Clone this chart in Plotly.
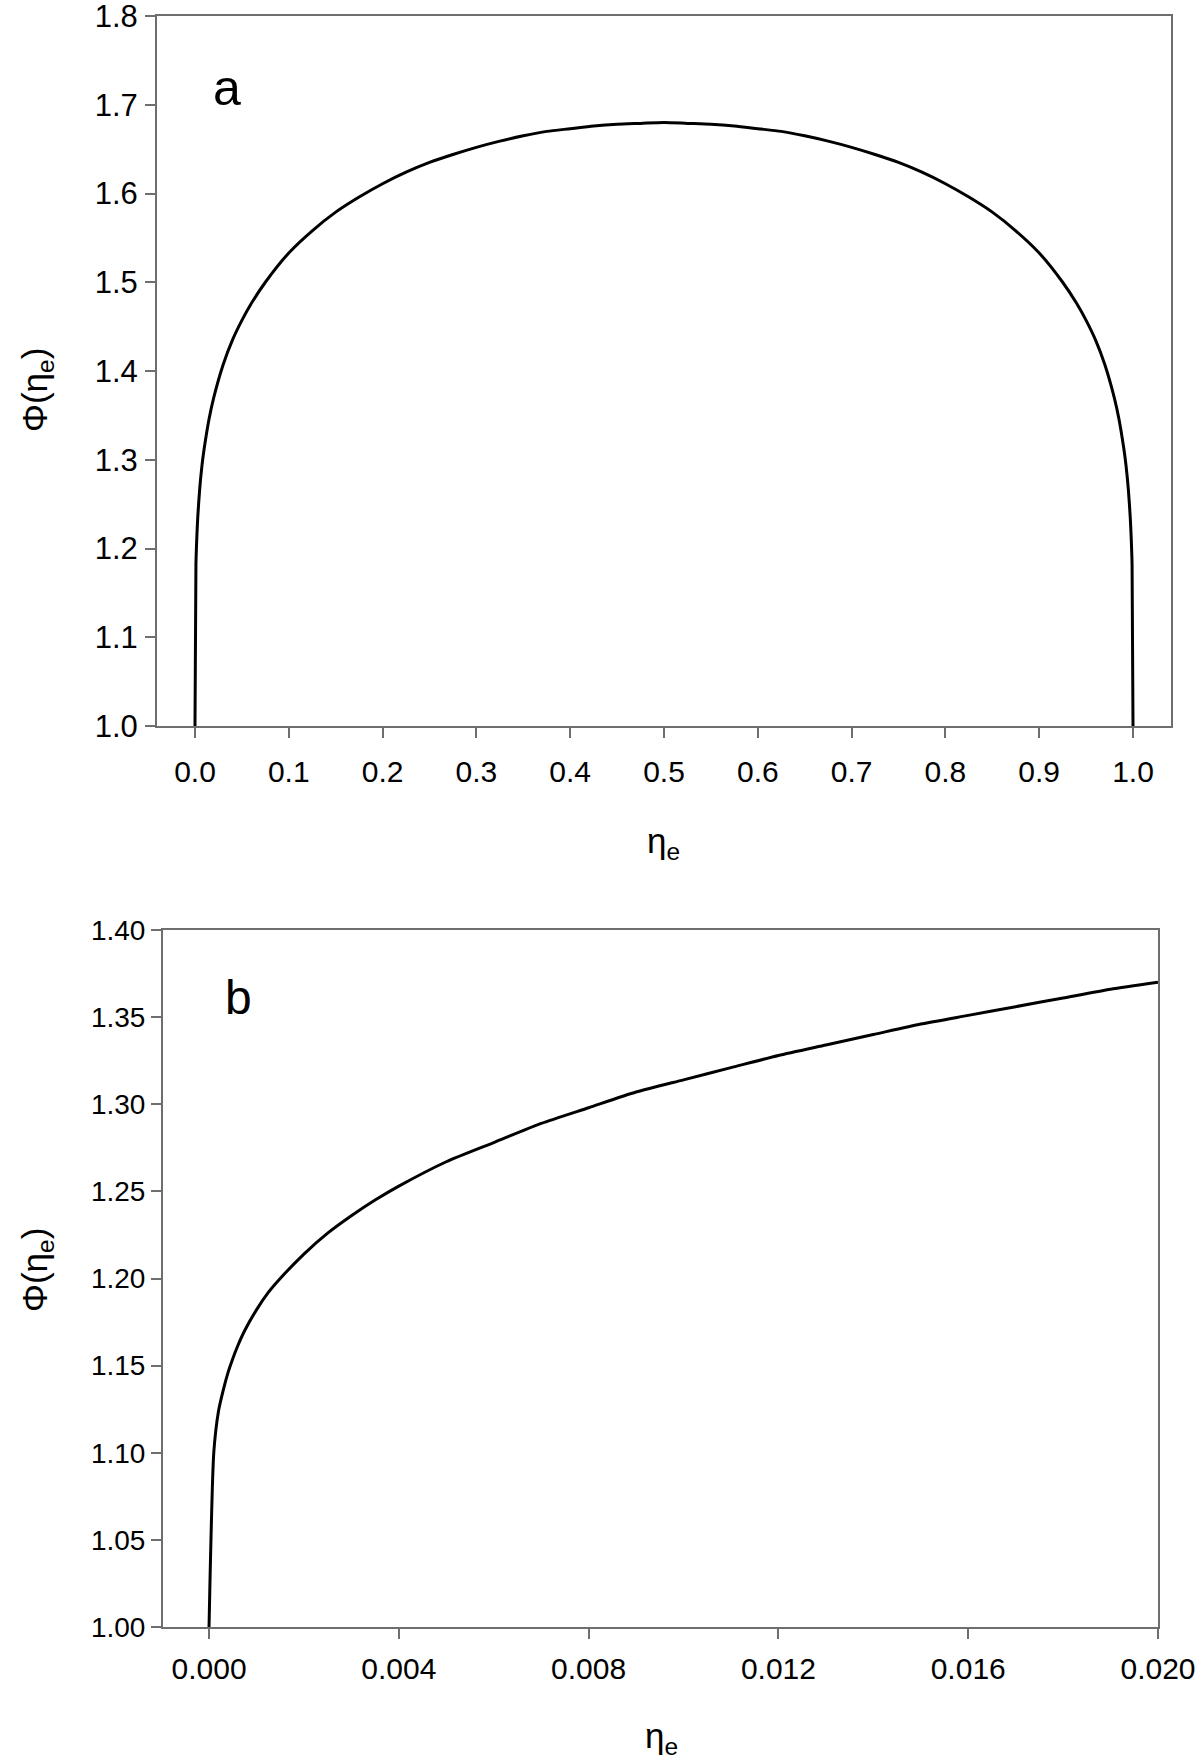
import plotly.graph_objects as go

# panel a: Phi over the full eta_e range
eta_a = [0.0, 0.001, 0.002, 0.003, 0.005, 0.0075, 0.01, 0.015, 0.02, 0.03, 0.04, 0.05,
         0.06, 0.075, 0.1, 0.125, 0.15, 0.175, 0.2, 0.225, 0.25, 0.275, 0.3, 0.325,
         0.35, 0.375, 0.4, 0.425, 0.45, 0.475, 0.5,
         0.525, 0.55, 0.575, 0.6, 0.625, 0.65, 0.675, 0.7, 0.725, 0.75, 0.775, 0.8,
         0.825, 0.85, 0.875, 0.9, 0.925, 0.94, 0.95, 0.96, 0.97, 0.98, 0.985, 0.99,
         0.9925, 0.995, 0.997, 0.998, 0.999, 1.0]
phi_a = [1.0, 1.182, 1.214, 1.236, 1.267, 1.294, 1.314, 1.346, 1.370, 1.407, 1.435, 1.457,
         1.476, 1.500, 1.533, 1.558, 1.579, 1.596, 1.611, 1.624, 1.635, 1.644, 1.652, 1.659,
         1.665, 1.670, 1.673, 1.676, 1.678, 1.679, 1.680,
         1.679, 1.678, 1.676, 1.673, 1.670, 1.665, 1.659, 1.652, 1.644, 1.635, 1.624, 1.611,
         1.596, 1.579, 1.558, 1.533, 1.500, 1.476, 1.457, 1.435, 1.407, 1.370, 1.346, 1.314,
         1.294, 1.267, 1.236, 1.214, 1.182, 1.0]

# panel b: zoom on small eta_e
eta_b = [0.0, 0.0001, 0.0002, 0.0003, 0.0004, 0.0005, 0.0006, 0.00075, 0.001, 0.00125,
         0.0015, 0.002, 0.0025, 0.003, 0.0035, 0.004, 0.005, 0.006, 0.007, 0.008, 0.009,
         0.010, 0.011, 0.012, 0.013, 0.014, 0.015, 0.016, 0.017, 0.018, 0.019, 0.020]
phi_b = [1.0, 1.100, 1.124, 1.136, 1.146, 1.154, 1.161, 1.170, 1.182, 1.192,
         1.200, 1.214, 1.226, 1.236, 1.245, 1.253, 1.267, 1.278, 1.289, 1.298, 1.307,
         1.314, 1.321, 1.328, 1.334, 1.340, 1.346, 1.351, 1.356, 1.361, 1.366, 1.370]

ticks_a_x = [round(0.1 * i, 1) for i in range(11)]
ticks_a_y = [round(1.0 + 0.1 * i, 1) for i in range(9)]
ticks_b_x = [0.0, 0.004, 0.008, 0.012, 0.016, 0.020]
ticks_b_y = [1.00, 1.05, 1.10, 1.15, 1.20, 1.25, 1.30, 1.35, 1.40]

W, H = 1200, 1762
FONT = "Liberation Sans, Arial, sans-serif"
AXIS_GREY = "#6e6e6e"


def px(x0, x1):
    return [x0 / W, x1 / W]


def py(top, bottom):
    return [1 - bottom / H, 1 - top / H]


fig = go.Figure()
fig.add_trace(go.Scatter(x=eta_a, y=phi_a, mode="lines", xaxis="x", yaxis="y",
                         line=dict(color="black", width=3, shape="spline", smoothing=0.7),
                         showlegend=False))
fig.add_trace(go.Scatter(x=eta_b, y=phi_b, mode="lines", xaxis="x2", yaxis="y2",
                         line=dict(color="black", width=3, shape="spline", smoothing=0.6),
                         showlegend=False))

axis_style = dict(
    showline=True, linecolor=AXIS_GREY, linewidth=2, mirror=True,
    ticks="outside", ticklen=10, tickwidth=2, tickcolor=AXIS_GREY,
    showgrid=False, zeroline=False, automargin=False, ticklabeloverflow="allow",
)
xfont = dict(family=FONT, size=30, color="black")
yfont_a = dict(family=FONT, size=31, color="black")
yfont_b = dict(family=FONT, size=28, color="black")

fig.update_layout(
    width=W, height=H,
    margin=dict(l=0, r=0, t=0, b=0),
    paper_bgcolor="white", plot_bgcolor="white",
    xaxis=dict(domain=px(157, 1171), range=[-0.0405, 1.0405], tickvals=ticks_a_x,
               tickformat=".1f", anchor="y", ticklabelstandoff=8, tickfont=xfont,
               **axis_style),
    yaxis=dict(domain=py(16, 726), range=[1.0, 1.8], tickvals=ticks_a_y,
               tickformat=".1f", anchor="x", ticklabelstandoff=1, tickfont=yfont_a,
               **axis_style),
    xaxis2=dict(domain=px(163, 1158), range=[-0.00097, 0.020], tickvals=ticks_b_x,
                tickformat=".3f", anchor="y2", ticklabelstandoff=4, tickfont=xfont,
                **axis_style),
    yaxis2=dict(domain=py(930, 1627), range=[1.0, 1.4], tickvals=ticks_b_y,
                tickformat=".2f", anchor="x2", ticklabelstandoff=0, tickfont=yfont_b,
                **axis_style),
)

title_font = dict(family=FONT, size=35, color="black")
annos = [
    dict(x=663 / W, y=1 - 843 / H, text="η<sub>e</sub>", font=title_font),
    dict(x=661 / W, y=1 - 1738 / H, text="η<sub>e</sub>", font=title_font),
    dict(x=37 / W, y=1 - 390 / H, text="Φ(η<sub>e</sub>)", textangle=-90, font=title_font),
    dict(x=37 / W, y=1 - 1270 / H, text="Φ(η<sub>e</sub>)", textangle=-90, font=title_font),
    dict(x=227 / W, y=1 - 88 / H, text="a", font=dict(family=FONT, size=50, color="black")),
    dict(x=238 / W, y=1 - 998 / H, text="b", font=dict(family=FONT, size=48, color="black")),
]
for a in annos:
    fig.add_annotation(xref="paper", yref="paper", showarrow=False,
                       xanchor="center", yanchor="middle", **a)

# drop the default 8px page margin so the figure sits at the window origin
fig.write_html("out.html", config={"displayModeBar": False},
               post_script="document.body.style.margin='0px';")
